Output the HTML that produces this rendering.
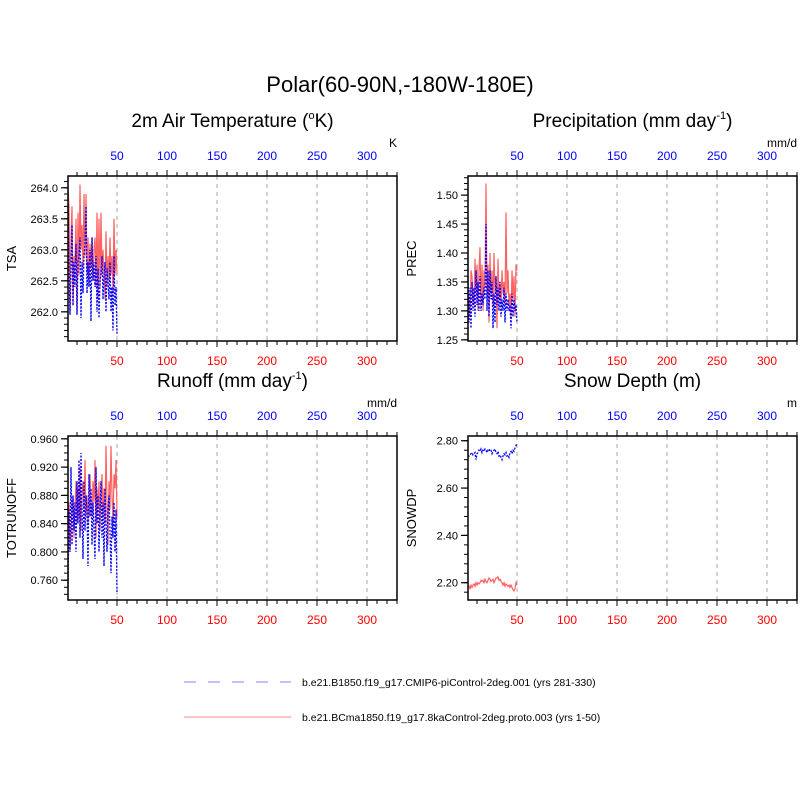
<!DOCTYPE html>
<html><head><meta charset="utf-8"><style>
body{margin:0;background:#fff;}
svg{display:block;font-family:"Liberation Sans",Arial,sans-serif;}
</style></head><body>
<svg id="chart" width="800" height="800" viewBox="0 0 800 800">
<rect width="800" height="800" fill="#fff"/>
<text x="400" y="92" font-size="22" text-anchor="middle">Polar(60-90N,-180W-180E)</text>
<g id="panels"></g>
<g>
<line x1="184" y1="682" x2="291" y2="682" stroke="#aab0ff" stroke-width="1.5" stroke-dasharray="12,12"/>
<text x="302" y="686" font-size="10.5">b.e21.B1850.f19_g17.CMIP6-piControl-2deg.001 (yrs 281-330)</text>
<line x1="184" y1="717" x2="291" y2="717" stroke="#ffb0b0" stroke-width="1.5"/>
<text x="302" y="721" font-size="10.5">b.e21.BCma1850.f19_g17.8kaControl-2deg.proto.003 (yrs 1-50)</text>
</g>
</svg>
<script>
const xTicks = [50,100,150,200,250,300];
const tsaTicks = ["262.0","262.5","263.0","263.5","264.0"];
const precTicks = ["1.25","1.30","1.35","1.40","1.45","1.50"];
const roTicks = ["0.760","0.800","0.840","0.880","0.920","0.960"];
const snowTicks = ["2.20","2.40","2.60","2.80"];
const tsaRed = [264.0,263.7,262.0,263.2,263.7,262.1,262.9,262.8,263.5,262.0,263.6,262.6,264.05,263.0,263.4,262.7,263.9,262.9,263.9,262.6,263.2,262.4,263.1,262.7,263.2,262.5,263.0,263.2,262.4,263.6,262.2,263.5,262.4,263.6,262.6,263.0,262.6,262.2,263.3,262.4,262.9,262.5,263.2,262.6,262.9,262.3,263.5,262.6,263.0,262.6];
const tsaBlue = [263.7,262.7,261.95,262.7,263.4,262.1,262.8,262.4,263.1,261.95,262.8,262.9,263.2,261.9,262.8,262.3,262.9,263.1,263.7,262.3,262.8,262.4,263.0,261.85,263.2,262.5,262.8,262.4,262.9,262.0,262.7,261.9,262.5,262.6,262.9,262.2,262.6,262.8,262.0,262.7,262.5,262.2,262.8,262.0,262.4,261.7,262.9,262.1,262.4,261.65];
const precRed = [1.33,1.31,1.29,1.37,1.36,1.32,1.31,1.39,1.33,1.38,1.30,1.37,1.41,1.31,1.38,1.30,1.37,1.34,1.52,1.32,1.38,1.28,1.40,1.33,1.37,1.31,1.40,1.33,1.36,1.27,1.39,1.32,1.35,1.31,1.37,1.33,1.35,1.31,1.47,1.33,1.37,1.31,1.33,1.29,1.37,1.32,1.36,1.29,1.38,1.37];
const precBlue = [1.36,1.28,1.34,1.27,1.35,1.30,1.34,1.29,1.37,1.31,1.35,1.30,1.36,1.30,1.33,1.31,1.34,1.32,1.45,1.30,1.37,1.29,1.37,1.32,1.35,1.27,1.33,1.28,1.36,1.31,1.34,1.30,1.35,1.29,1.32,1.30,1.34,1.28,1.33,1.30,1.32,1.30,1.31,1.27,1.33,1.29,1.32,1.30,1.31,1.28];
const roRed = [0.840,0.870,0.800,0.830,0.860,0.880,0.820,0.860,0.900,0.840,0.890,0.850,0.920,0.830,0.880,0.900,0.860,0.930,0.850,0.880,0.840,0.890,0.910,0.870,0.850,0.900,0.870,0.930,0.820,0.890,0.860,0.900,0.830,0.880,0.910,0.850,0.890,0.840,0.950,0.870,0.810,0.900,0.860,0.950,0.880,0.840,0.910,0.890,0.930,0.850];
const roBlue = [0.750,0.860,0.800,0.920,0.810,0.880,0.830,0.870,0.800,0.900,0.840,0.930,0.820,0.940,0.860,0.790,0.900,0.830,0.880,0.860,0.780,0.910,0.850,0.890,0.810,0.870,0.830,0.790,0.920,0.840,0.880,0.800,0.860,0.900,0.820,0.870,0.780,0.890,0.840,0.800,0.860,0.880,0.830,0.770,0.850,0.820,0.870,0.800,0.860,0.740];
const snowRed = [2.18,2.185,2.175,2.19,2.18,2.19,2.195,2.185,2.2,2.19,2.2,2.195,2.2,2.21,2.205,2.21,2.2,2.215,2.205,2.2,2.21,2.22,2.215,2.205,2.21,2.215,2.2,2.21,2.22,2.22,2.225,2.21,2.215,2.205,2.2,2.19,2.2,2.185,2.195,2.19,2.185,2.19,2.18,2.19,2.18,2.17,2.165,2.175,2.2,2.19];
const snowBlue = [2.74,2.735,2.74,2.745,2.75,2.74,2.745,2.75,2.72,2.745,2.75,2.76,2.755,2.765,2.75,2.76,2.755,2.765,2.76,2.75,2.76,2.755,2.765,2.76,2.745,2.755,2.76,2.765,2.75,2.745,2.755,2.735,2.74,2.73,2.72,2.735,2.745,2.74,2.75,2.735,2.74,2.73,2.75,2.755,2.745,2.76,2.755,2.77,2.78,2.79];

const panels = [
 {key:"tsa",x0:68,x1:397,y0:176,y1:341,ymin:261.53,ymax:264.19,ticks:tsaTicks,minor:0.1,title:"2m Air Temperature",ylabel:"TSA",unit:"K",red:tsaRed,blue:tsaBlue},
 {key:"prec",x0:468,x1:797,y0:176,y1:341,ymin:1.248,ymax:1.533,ticks:precTicks,minor:0.01,title:"Precipitation (mm day",ylabel:"PREC",unit:"mm/d",red:precRed,blue:precBlue},
 {key:"runoff",x0:68,x1:397,y0:436,y1:600,ymin:0.732,ymax:0.964,ticks:roTicks,minor:0.01,title:"Runoff (mm day",ylabel:"TOTRUNOFF",unit:"mm/d",red:roRed,blue:roBlue},
 {key:"snow",x0:468,x1:797,y0:436,y1:600,ymin:2.127,ymax:2.82,ticks:snowTicks,minor:0.04,title:"Snow Depth (m)",ylabel:"SNOWDP",unit:"m",red:snowRed,blue:snowBlue}
];
const NS="http://www.w3.org/2000/svg";
const root=document.getElementById("panels");
function mk(tag,attrs,parent,txt){const e=document.createElementNS(NS,tag);for(const k in attrs)e.setAttribute(k,attrs[k]);if(txt!==undefined)e.textContent=txt;parent.appendChild(e);return e;}
panels.forEach(p=>{
 const g=mk("g",{},root);
 
 
 const xs=v=>p.x0+(v-1)*(p.x1-p.x0)/329;
 const ys=v=>p.y1-(v-p.ymin)*(p.y1-p.y0)/(p.ymax-p.ymin);
 const cx=(p.x0+p.x1)/2;
 const t=mk("text",{x:cx,y:p.y0-49,"font-size":"19","text-anchor":"middle"},g);
 
 
 if(p.key==="tsa"){t.innerHTML='2m Air Temperature (<tspan font-size="11" dy="-8">o</tspan><tspan dy="8">K)</tspan>';}
 else if(p.key==="prec"||p.key==="runoff"){t.innerHTML=p.title+'<tspan font-size="11" dy="-8">-1</tspan><tspan dy="8">)</tspan>';}
 else t.textContent=p.title;
 const u=mk("text",{x:p.x1,y:p.y0-29,"font-size":"12","text-anchor":"end"},g,p.unit);
 
 
 xTicks.forEach(v=>{
  const l=mk("line",{x1:xs(v),x2:xs(v),y1:p.y0,y2:p.y1,stroke:"#aaa","stroke-width":"1","stroke-dasharray":"4,4"},g);
  
  
 });
 for(let v=10;v<=330;v+=10){
  const maj=v%50===0;const len=maj?6:4;
  mk("line",{x1:xs(v),x2:xs(v),y1:p.y0,y2:p.y0-len,stroke:"#000"},g);
  mk("line",{x1:xs(v),x2:xs(v),y1:p.y1,y2:p.y1+len,stroke:"#000"},g);
 }
 xTicks.forEach(v=>{
  const a=mk("text",{x:xs(v),y:p.y0-16,"font-size":"12","text-anchor":"middle",fill:"#0000ff"},g,String(v));
  
  
  const b=mk("text",{x:xs(v),y:p.y1+24,"font-size":"12","text-anchor":"middle",fill:"#ff0000"},g,String(v));
  
  
 });
 const start=Math.ceil(p.ymin/p.minor-1e-6)*p.minor;
 for(let v=start;v<=p.ymax+1e-9;v+=p.minor){
  mk("line",{x1:p.x0,x2:p.x0-4,y1:ys(v),y2:ys(v),stroke:"#000"},g);
 }
 p.ticks.forEach(s=>{
  const v=parseFloat(s);
  mk("line",{x1:p.x0,x2:p.x0-7,y1:ys(v),y2:ys(v),stroke:"#000","stroke-width":"1.2"},g);
  const a=mk("text",{x:p.x0-10,y:ys(v)+4,"font-size":"11","text-anchor":"end"},g,s);
  
  
 });
 const yl=mk("text",{x:0,y:0,"font-size":"13","text-anchor":"middle",transform:`translate(${p.x0-52},${(p.y0+p.y1)/2}) rotate(-90)`},g,p.ylabel);
 
 
 const pts=arr=>arr.map((v,i)=>xs(i+1).toFixed(1)+","+ys(v).toFixed(1)).join(" ");
 const r=mk("polyline",{points:pts(p.red),fill:"none",stroke:"#ff6060","stroke-width":"1.2"},g);
 
 
 const b=mk("polyline",{points:pts(p.blue),fill:"none",stroke:"#0000ff","stroke-width":"1.3","stroke-dasharray":"2,1.5"},g);
 
 
 const box=mk("rect",{x:p.x0,y:p.y0,width:p.x1-p.x0,height:p.y1-p.y0,fill:"none",stroke:"#000","stroke-width":"1.5"},g);
 
 
});
</script>
</body></html>
